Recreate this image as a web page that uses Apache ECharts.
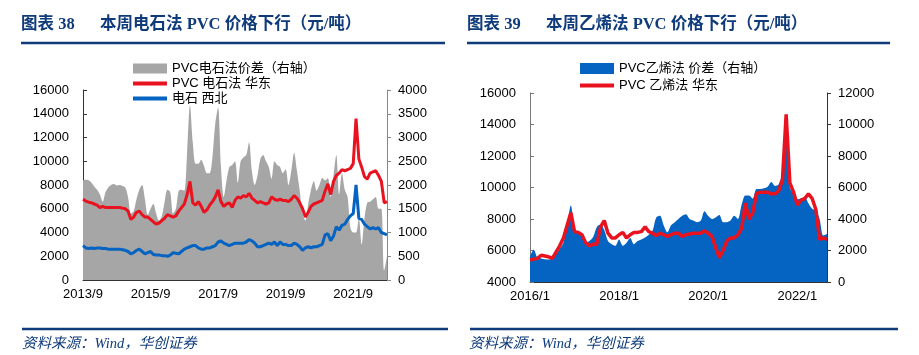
<!DOCTYPE html>
<html><head><meta charset="utf-8">
<script src="https://cdn.jsdelivr.net/npm/echarts@6/dist/echarts.min.js"></script>
<style>html,body{margin:0;padding:0;background:#fff}#c{width:919px;height:355px}</style>
</head><body><div id="c"></div>
<script>
// ---------- Chart 38 data (monthly, 2013/9 - 2022/9) ----------
const months1 = [];
for (let y = 2013, m = 9; !(y === 2022 && m === 10); ) { months1.push(y + '/' + m); m++; if (m > 12) { m = 1; y++; } }
const pvcCarbideEast = [6800,6650,6550,6500,6400,6300,6100,6200,6100,6100,6100,6100,6100,6100,6050,6000,5800,5100,5300,5700,5800,5500,5300,5300,5100,4900,4700,4800,5000,5200,5500,5400,5300,5400,5800,6100,6400,7200,8300,6500,6300,6600,6200,5700,5900,6300,6600,7000,7600,6600,6200,6400,6500,6100,6700,7000,6900,7100,7000,7300,6900,6700,6500,6600,6500,6400,6500,7000,6800,6700,6800,6700,6700,6600,6800,7100,6900,6500,6000,5300,5700,6200,6400,6500,6600,6700,7500,8100,7200,8300,8800,9000,9300,9200,9300,9400,9800,13600,10200,9500,8700,8500,9000,9100,9200,8800,8300,6500,6600];
const carbideNorthwest = [2900,2700,2650,2700,2650,2700,2700,2650,2650,2600,2600,2600,2600,2600,2550,2500,2400,2200,2300,2500,2600,2400,2200,2300,2400,2150,2100,2100,2050,2050,2000,2100,2300,2250,2200,2400,2600,2700,2800,2900,2900,2700,2600,2600,2700,2700,2800,2900,3200,3300,3100,3000,2900,3000,3100,3100,3100,3100,3200,3400,3300,3100,2800,2800,2900,3000,3100,3000,3200,2900,3200,3000,3000,2900,2900,3100,3000,2800,2500,2700,2800,2700,2800,2800,2900,3000,3800,3900,3300,3700,4500,4200,4600,4700,5100,5400,5600,8000,5200,5100,4700,4500,4300,4400,4300,4400,4000,3900,3800];
const carbideSpread = [2100,2110,2100,2050,1970,1900,1800,1650,1850,1950,2000,2020,1990,2000,1980,1950,1750,1400,1450,1700,1900,2000,1700,1370,1500,1600,1400,1250,1350,1650,1900,1850,1400,1500,1880,1900,1880,2700,3680,2900,2450,2450,2530,2400,2250,2250,2600,3300,3630,2400,1750,2100,2380,2420,2500,2050,2500,2580,2630,2900,2300,2000,2200,2550,2630,2500,2380,2130,2500,2420,2380,2250,2330,2000,2300,2680,2300,1880,1400,1250,1600,1900,2080,1880,2000,2150,2100,2150,1750,2200,2630,1800,2250,1900,1750,1100,1000,1000,1300,750,1300,1630,1650,1700,1750,1500,1500,200,500];

// ---------- Chart 39 data (monthly, 2016/1 - 2022/9) ----------
const months2 = [];
for (let y = 2016, m = 1; !(y === 2022 && m === 10); ) { months2.push(y + '/' + m); m++; if (m > 12) { m = 1; y++; } }
const pvcEthyleneEast = [5400,5450,5500,5700,5650,5600,5500,5900,6300,6800,7600,8400,7200,7150,7000,6500,6300,6400,6400,7500,7900,7100,6800,6800,7000,7150,6800,7000,7150,7150,7200,7500,7200,7100,6950,7100,7000,6900,7000,7100,7100,6900,7000,7050,7100,7100,7100,7250,7100,6900,6200,5550,6000,6600,6800,6800,7000,7400,9000,8000,8400,9600,9700,9700,9700,9600,9600,9800,10500,14650,10300,9700,8900,9200,9300,9600,9300,8600,6700,6800,6700];
const ethyleneSpread = [1650,2050,1550,1500,1450,1430,1500,1750,2100,2500,3600,4850,3400,3100,2900,2500,2600,2850,3500,3650,3300,2600,2400,2300,2700,2300,2500,2800,2400,2600,2700,2820,3000,3250,4100,4200,3600,3150,3600,3800,4000,4200,4300,4000,3900,3800,3900,4500,4200,4000,4100,4250,3800,3800,3900,4200,4000,4900,5500,5500,5300,5900,5900,5950,6050,6350,6100,6200,7000,9500,6000,5600,5250,5300,5400,5000,4650,4550,4000,2950,3050];

const RED = '#e8131f', BLUE = '#0563c1', GRAY = '#a6a6a6', NAVY = '#0f3b7a';
const AX = '#333';
const numFont = '"Liberation Sans", Arial, sans-serif';
const cjk = '"Liberation Sans","Noto Sans CJK SC",sans-serif';
const LINE_ICON = 'path://M0,0H34V4H0Z';

function xAxisCfg(cats, grid) {
  return {
    type: 'category', data: cats, gridIndex: grid, boundaryGap: false,
    axisLine: { lineStyle: { color: AX, width: 1 } },
    axisTick: { inside: true, length: 4, interval: (i) => i % 24 === 0, lineStyle: { color: AX } },
    axisLabel: { interval: (i) => i % 24 === 0, color: '#000', fontSize: 13, fontFamily: numFont, margin: 8 },
    splitLine: { show: false }
  };
}
function yAxisCfg(grid, min, max, interval, pos, lineColor) {
  return {
    type: 'value', gridIndex: grid, min, max, interval, position: pos,
    axisLine: { show: true, lineStyle: { color: lineColor || AX, width: 1 } },
    axisTick: { show: true, inside: pos === 'left', length: 4, lineStyle: { color: lineColor || AX } },
    axisLabel: { color: '#000', fontSize: 13, fontFamily: numFont, margin: pos === 'left' ? 14 : 11, formatter: (v) => String(v) },
    splitLine: { show: false }
  };
}

const chart = echarts.init(document.getElementById('c'), null, { renderer: 'canvas' });
const titleFont = 'bold 16.5px "Liberation Serif","Noto Sans CJK SC",serif';
const footFont = 'italic 14.5px "Liberation Serif","Noto Sans CJK SC",serif';
chart.setOption({
  animation: false,
  graphic: [
    { type: 'text', left: 21, top: 16, style: { text: '图表 38', font: titleFont, fill: NAVY } },
    { type: 'text', left: 100, top: 16, style: { text: '本周电石法 PVC 价格下行（元/吨）', font: titleFont, fill: NAVY } },
    { type: 'text', left: 467, top: 16, style: { text: '图表 39', font: titleFont, fill: NAVY } },
    { type: 'text', left: 546, top: 16, style: { text: '本周乙烯法 PVC 价格下行（元/吨）', font: titleFont, fill: NAVY } },
    { type: 'line', shape: { x1: 21, y1: 43, x2: 445, y2: 43 }, style: { stroke: NAVY, lineWidth: 2.5 } },
    { type: 'line', shape: { x1: 467, y1: 43, x2: 890, y2: 43 }, style: { stroke: NAVY, lineWidth: 2.5 } },
    { type: 'line', shape: { x1: 22, y1: 329, x2: 448, y2: 329 }, style: { stroke: NAVY, lineWidth: 2.5 } },
    { type: 'line', shape: { x1: 470, y1: 329, x2: 898, y2: 329 }, style: { stroke: NAVY, lineWidth: 2.5 } },
    { type: 'text', left: 22, top: 337, style: { text: '资料来源：Wind，华创证券', font: footFont, fill: NAVY } },
    { type: 'text', left: 469, top: 337, style: { text: '资料来源：Wind，华创证券', font: footFont, fill: NAVY } }
  ],
  legend: [
    {
      orient: 'vertical', left: 128, top: 56, itemWidth: 34, itemHeight: 10, itemGap: 0, padding: 5,
      textStyle: { color: '#000', fontSize: 13, fontFamily: cjk, lineHeight: 15 },
      data: [{ name: 'PVC电石法价差（右轴）', icon: 'rect' }, { name: 'PVC 电石法 华东', icon: LINE_ICON }, { name: '电石 西北', icon: LINE_ICON }]
    },
    {
      orient: 'vertical', left: 575, top: 56, itemWidth: 34, itemHeight: 11, itemGap: 2, padding: 5,
      textStyle: { color: '#000', fontSize: 13, fontFamily: cjk, lineHeight: 15 },
      data: [{ name: 'PVC乙烯法 价差（右轴）', icon: 'rect' }, { name: 'PVC 乙烯法 华东', icon: LINE_ICON }]
    }
  ],
  grid: [
    { left: 83, right: 532, top: 90, bottom: 75, containLabel: false },
    { left: 530, right: 92, top: 93, bottom: 73, containLabel: false }
  ],
  xAxis: [xAxisCfg(months1, 0), xAxisCfg(months2, 1)],
  yAxis: [
    yAxisCfg(0, 0, 16000, 2000, 'left'),
    yAxisCfg(0, 0, 4000, 500, 'right', '#888'),
    yAxisCfg(1, 4000, 16000, 2000, 'left', '#777'),
    yAxisCfg(1, 0, 12000, 2000, 'right')
  ],
  series: [
    { name: 'PVC电石法价差（右轴）', type: 'line', xAxisIndex: 0, yAxisIndex: 1, data: carbideSpread, symbol: 'none', smooth: 0.3,
      color: GRAY, lineStyle: { width: 0 }, areaStyle: { color: GRAY, opacity: 1 }, z: 1 },
    { name: 'PVC 电石法 华东', type: 'line', xAxisIndex: 0, yAxisIndex: 0, data: pvcCarbideEast, symbol: 'none',
      color: RED, lineStyle: { width: 3, color: RED }, z: 3 },
    { name: '电石 西北', type: 'line', xAxisIndex: 0, yAxisIndex: 0, data: carbideNorthwest, symbol: 'none',
      color: BLUE, lineStyle: { width: 3, color: BLUE }, z: 2 },
    { name: 'PVC乙烯法 价差（右轴）', type: 'line', xAxisIndex: 1, yAxisIndex: 3, data: ethyleneSpread, symbol: 'none', smooth: 0.3,
      color: BLUE, lineStyle: { width: 0 }, areaStyle: { color: BLUE, opacity: 1 }, z: 1 },
    { name: 'PVC 乙烯法 华东', type: 'line', xAxisIndex: 1, yAxisIndex: 2, data: pvcEthyleneEast, symbol: 'none',
      color: RED, lineStyle: { width: 3.5, color: RED }, z: 3 }
  ]
});
</script></body></html>
